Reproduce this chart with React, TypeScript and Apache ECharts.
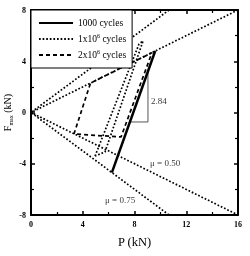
import React, { useEffect, useRef } from 'react';
import * as echarts from 'echarts';

const pMin = 0;
const pMax = 16;
const fMin = -8;
const fMax = 8;

const cycles1000 = [[6.25, -4.69], [9.6, 4.8]];
const cycles1e6 = [[4.95, -3.4], [8.35, 5.35], [8.66, 5.58], [5.72, -3.08], [4.95, -3.4]];
const cycles2e6 = [[3.32, -1.68], [4.6, 2.3], [9.35, 4.67], [6.96, -1.91], [3.32, -1.68]];
const mu050 = [[16, 8], [0, 0], [16, -8]];
const mu075 = [[10.67, 8], [0, 0], [10.67, -8]];
const slopeTriangle = [[7.64, -0.74], [9.04, -0.74], [9.04, 3.2]];
const textLabels = [
  { name: '2.84', value: [9.27, 0.9] },
  { name: 'μ = 0.50', value: [9.2, -3.94] },
  { name: 'μ = 0.75', value: [5.72, -6.83] },
];
const legendNames = ['1000 cycles', '1x10^6 cycles', '2x10^6 cycles'];

const FONT = 'Liberation Serif';
const dotted = [1.7, 1.9];
const dashed = [4, 3];

export default function App() {
  const ref = useRef<HTMLDivElement>(null);
  useEffect(() => {
    if (!ref.current) return;
    const chart = echarts.init(ref.current, null, { renderer: 'svg' });
    const axisCommon = {
      axisLine: { show: true, onZero: false, lineStyle: { color: '#000', width: 2 } },
      axisTick: { show: true, inside: true, length: 4, lineStyle: { color: '#000', width: 1.5 } },
      minorTick: { show: true, splitNumber: 2, length: 3, lineStyle: { color: '#000', width: 1.2 } },
      splitLine: { show: false },
      nameMoveOverlap: false,
    };
    chart.setOption({
      animation: false,
      grid: { left: 31, right: 12, top: 10, bottom: 41, containLabel: false, outerBoundsMode: 'none' },
      legend: {
        data: legendNames,
        orient: 'vertical',
        left: 31,
        top: 10,
        padding: [8, 6, 8, 7],
        itemWidth: 34,
        itemHeight: 10,
        itemGap: 5,
        backgroundColor: '#fff',
        borderColor: '#000',
        borderWidth: 1,
        borderRadius: 0,
        itemStyle: { opacity: 0 },
        formatter: (n: string) => n.replace(/\^(\d)/, '{sup|$1}'),
        textStyle: {
          fontFamily: FONT,
          fontSize: 9.5,
          color: '#000',
          rich: { sup: { fontFamily: FONT, fontSize: 6, color: '#000', verticalAlign: 'top', lineHeight: 12 } },
        },
      },
      xAxis: [
        {
          type: 'value', min: pMin, max: pMax, interval: 4, position: 'bottom',
          ...axisCommon,
          axisLabel: { fontFamily: FONT, fontSize: 8, fontWeight: 'bold', color: '#000', margin: 5 },
          name: 'P (kN)', nameLocation: 'middle', nameGap: 20,
          nameTextStyle: { fontFamily: FONT, fontSize: 12.5, color: '#000' },
        },
        {
          type: 'value', min: pMin, max: pMax, interval: 4, position: 'top',
          ...axisCommon, axisLabel: { show: false },
        },
      ],
      yAxis: [
        {
          type: 'value', min: fMin, max: fMax, interval: 4, position: 'left',
          ...axisCommon,
          axisLabel: { fontFamily: FONT, fontSize: 8, fontWeight: 'bold', color: '#000', margin: 5 },
          name: '{n|F}{sub|max}{n| (kN)}', nameLocation: 'middle', nameGap: 17,
          nameTextStyle: {
            fontFamily: FONT, fontSize: 10, color: '#000',
            rich: {
              n: { fontFamily: FONT, fontSize: 10, color: '#000', lineHeight: 14 },
              sub: { fontFamily: FONT, fontSize: 6, color: '#000', verticalAlign: 'bottom', lineHeight: 14 },
            },
          },
        },
        {
          type: 'value', min: fMin, max: fMax, interval: 4, position: 'right',
          ...axisCommon, axisLabel: { show: false },
        },
      ],
      series: [
        {
          name: 'mu050', type: 'line', data: mu050, symbol: 'none', silent: true,
          lineStyle: { color: '#000', width: 1.7, type: dotted },
        },
        {
          name: 'mu075', type: 'line', data: mu075, symbol: 'none', silent: true,
          lineStyle: { color: '#000', width: 1.7, type: dotted },
        },
        {
          name: 'triangle', type: 'line', data: slopeTriangle, symbol: 'none', silent: true,
          lineStyle: { color: '#555', width: 1 },
        },
        {
          name: legendNames[0], type: 'line', data: cycles1000, symbol: 'none',
          itemStyle: { color: '#000' },
          lineStyle: { color: '#000', width: 2.5 },
        },
        {
          name: legendNames[1], type: 'line', data: cycles1e6, symbol: 'none',
          itemStyle: { color: '#000' },
          lineStyle: { color: '#000', width: 1.7, type: dotted },
        },
        {
          name: legendNames[2], type: 'line', data: cycles2e6, symbol: 'none',
          itemStyle: { color: '#000' },
          lineStyle: { color: '#000', width: 1.7, type: dashed },
        },
        {
          name: 'labels', type: 'scatter', data: textLabels, symbolSize: 0, silent: true,
          label: {
            show: true, position: 'right', distance: 0,
            formatter: (p: any) => p.name,
            fontFamily: FONT, fontSize: 9, color: '#000',
          },
        },
      ],
    });
    return () => chart.dispose();
  }, []);
  return <div ref={ref} style={{ position: 'fixed', left: 0, top: 0, width: 250, height: 256 }} />;
}
